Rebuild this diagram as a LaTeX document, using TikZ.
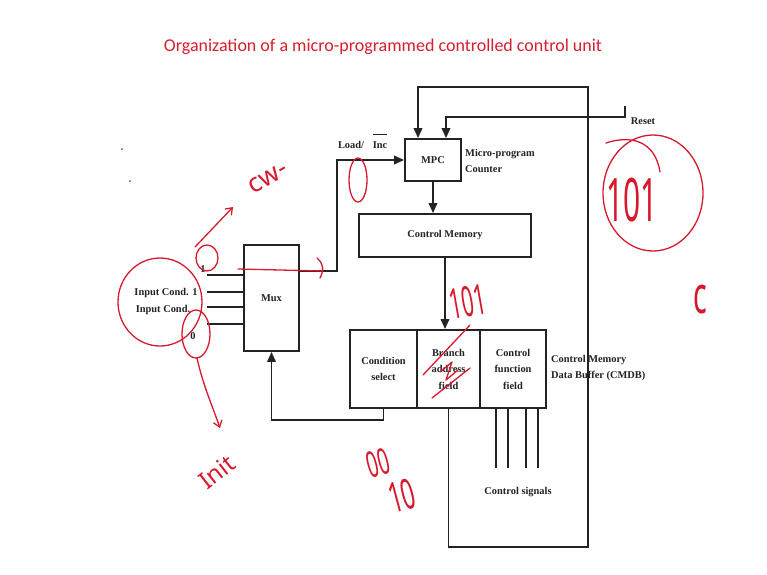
\documentclass[tikz,border=0pt]{standalone}
\usepackage{fontspec}
\setmainfont{Liberation Serif}
\newfontfamily\titlefont{Carlito}
\newfontfamily\handfont{Noto Sans}
\usetikzlibrary{arrows.meta,calc}
\definecolor{pen}{RGB}{215,25,45}
\definecolor{titlered}{RGB}{215,30,45}
\definecolor{ln}{RGB}{35,35,35}
\begin{document}
\begin{tikzpicture}[x=1pt,y=-1pt,
  box/.style={draw=ln, line width=1.8pt, inner sep=0pt, text=ln, font=\bfseries\fontsize{10.4}{16.5}\selectfont, align=center},
  wire/.style={draw=ln, line width=1.8pt},
  arr/.style={wire, -{Triangle[length=10pt,width=8.5pt]}},
  lbl/.style={inner sep=0pt, text=ln, font=\bfseries\fontsize{10.4}{16}\selectfont, align=left},
  ink/.style={draw=pen, line width=1.3pt, line cap=round, line join=round},
  inktip/.style={ink, -{Straight Barb[length=6pt,width=9pt]}},
  inktxt/.style={text=pen, inner sep=0pt},
]
\useasboundingbox (0,0) rectangle (767,574);

% title
\node[text=titlered, font=\titlefont\fontsize{18}{20}\selectfont] (title) at (383,47) {Organization of a micro-programmed controlled control unit};

% blocks
\node[box, minimum width=56pt, minimum height=42pt] (mpc) at (433,160) {MPC};
\node[box, minimum width=172pt, minimum height=43pt] (cm) at (445,235.5) {Control Memory};
\node[box, minimum width=55pt, minimum height=106pt] (mux) at (271.5,298) {Mux};
\node[box, minimum width=67pt, minimum height=78pt] (cs) at (383.5,369) {Condition\\select};
\node[box, minimum width=63pt, minimum height=78pt] (ba) at (448.5,369) {Branch\\address\\field};
\node[box, minimum width=66pt, minimum height=78pt] (cf) at (513,369) {Control\\function\\field};

% labels
\node[lbl, anchor=west] (mpclbl) at (465,161) {Micro-program\\Counter};
\node[lbl, anchor=west] (cmdb) at (551,368) {Control Memory\\Data Buffer (CMDB)};
\node[lbl] (resetlbl) at (643,121) {Reset};
\node[lbl] (load) at (351,145) {Load/};
\node[lbl] (inc) at (380,145) {Inc};
\draw[ln, line width=1.4pt] ([yshift=7pt]inc.north west) -- ([yshift=7pt]inc.north east);
\node[lbl] (ic1) at (166,293) {Input Cond. 1};
\node[lbl] (ic2) at (163,310) {Input Cond.};
\node[lbl] (one) at (203,269) {1};
\node[lbl] (zero) at (193,336) {0};
\node[lbl] (sig) at (518,492) {Control signals};

% coordinates
\coordinate (loopBR) at (588,547);
\coordinate (loopTR) at (588,87);
\coordinate (resetTop) at (625,106);
\coordinate (resetCorner) at (625,117);
\coordinate (muxout) at (299,271);
\coordinate (ldcorner) at (337,271);
\coordinate (in1) at (207,275);
\coordinate (in2) at (207,292);
\coordinate (in3) at (207,307);
\coordinate (in4) at (207,324);

% connectors
\draw[arr] (mpc.south) -- (mpc.south |- cm.north);
\draw[arr] (cm.south) -- (cm.south |- ba.north);
\draw[arr] (ba.south) |- (loopBR) -- (loopTR) -| ([xshift=-15pt]mpc.north);
\draw[arr] (resetTop) -- (resetCorner) -| ([xshift=13pt]mpc.north);
\draw[arr] (muxout) -- (ldcorner) |- (mpc.west);
\draw[arr] (cs.south) -- ++(0,11) -| (mux.south);
\foreach \p in {in1,in2,in3,in4} \draw[wire] (\p) -- (\p -| mux.west);
\foreach \x in {496,508,526,538} \draw[wire] (\x,0 |- cf.south) -- (\x,468);

% handwritten annotations
\fill[pen] (122,149) circle (1pt);
\fill[pen] (130,181) circle (1pt);
\draw[inktip] (195,247) -- (233,207);
\node[inktxt, rotate=30, font=\handfont\fontsize{26}{26}\selectfont] (cw) at (268,178) {cw-};
\draw[ink] (207,258) ellipse [x radius=11, y radius=13];
\draw[ink] (160,302) ellipse [x radius=42, y radius=44];
\draw[ink] (196,334) ellipse [x radius=14, y radius=24];
\draw[inktip] (197,358) .. controls (203,385) and (212,405) .. (220,428);
\node[inktxt, rotate=38, font=\handfont\fontsize{24}{24}\selectfont] (init) at (217,472) {Init};
\draw[ink] (238,269) -- (323,271);
\draw[ink] (317,258) .. controls (324,264) and (324,270) .. (320,278);
\draw[ink] (358,180) ellipse [x radius=9, y radius=22];
\draw[ink] (653,193) ellipse [x radius=50, y radius=58];
\draw[ink] (606,143) .. controls (630,135) and (655,140) .. (660,172);
\node[inktxt, xscale=0.5, font=\handfont\fontsize{60}{60}\selectfont] (r101) at (632,200) {101};
\node[inktxt, xscale=0.55, font=\handfont\fontsize{52}{52}\selectfont] (rc) at (700,300) {c};
\node[inktxt, rotate=10, xscale=0.5, font=\handfont\fontsize{42}{42}\selectfont] (b101) at (468,302) {101};
\draw[ink] (423,375) -- (470,325);
\draw[ink] (432,398) -- (470,368);
\draw[ink] (440,372) -- (452,362) -- (446,380) -- (458,370);
\node[inktxt, rotate=15, xscale=0.55, font=\handfont\fontsize{36}{36}\selectfont] (c00) at (378,463) {00};
\node[inktxt, rotate=15, xscale=0.55, font=\handfont\fontsize{42}{42}\selectfont] (c10) at (402,496) {10};
\end{tikzpicture}
\end{document}
